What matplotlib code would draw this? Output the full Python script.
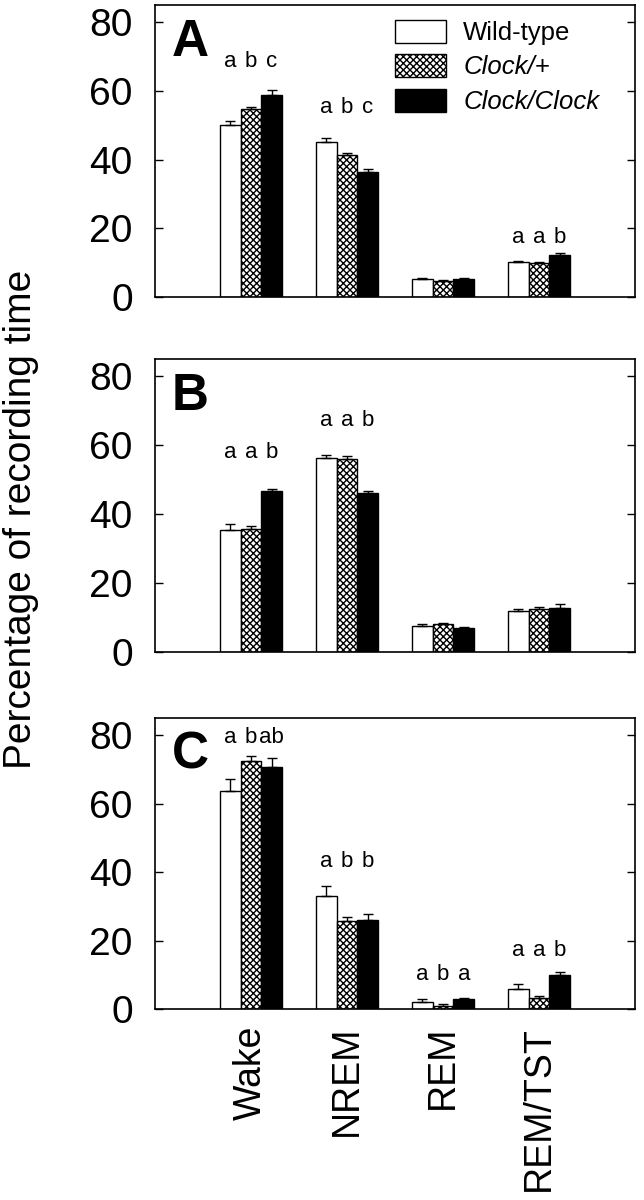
import numpy as np
import matplotlib
matplotlib.use("Agg")
import matplotlib.pyplot as plt

plt.rcParams['font.family'] = ['Liberation Sans', 'DejaVu Sans']
plt.rcParams['hatch.linewidth'] = 1.0

categories = ['Wake', 'NREM', 'REM', 'REM/TST']
genotypes = ['Wild-type', 'Clock/+', 'Clock/Clock']

# panel A
a_wt = [50.0, 45.1, 5.1, 10.3]
a_wt_err = [1.3, 1.3, 0.3, 0.3]
a_het = [54.6, 41.3, 4.6, 10.0]
a_het_err = [0.8, 0.7, 0.3, 0.3]
a_cc = [58.9, 36.4, 5.2, 12.2]
a_cc_err = [1.3, 0.8, 0.3, 0.7]
a_sig = [['a', 'b', 'c'], ['a', 'b', 'c'], None, ['a', 'a', 'b']]
a_sig_y = [67.1, 53.5, None, 15.6]

# panel B
b_wt = [35.3, 56.3, 7.5, 11.8]
b_wt_err = [1.7, 0.9, 0.6, 0.6]
b_het = [35.7, 56.0, 8.0, 12.4]
b_het_err = [0.9, 0.8, 0.4, 0.6]
b_cc = [46.7, 46.1, 6.9, 12.7]
b_cc_err = [0.6, 0.6, 0.3, 1.1]
b_sig = [['a', 'a', 'b'], ['a', 'a', 'b'], None, None]
b_sig_y = [56.2, 65.6, None, None]

# panel C
c_wt = [63.7, 33.1, 2.1, 5.8]
c_wt_err = [3.4, 2.8, 0.8, 1.6]
c_het = [72.5, 25.8, 0.8, 3.3]
c_het_err = [1.3, 1.1, 0.6, 0.5]
c_cc = [70.6, 25.9, 2.9, 10.0]
c_cc_err = [2.6, 1.8, 0.4, 0.9]
c_sig = [['a', 'b', 'ab'], ['a', 'b', 'b'], ['a', 'b', 'a'], ['a', 'a', 'b']]
c_sig_y = [77.7, 41.5, 8.5, 15.6]

panels = [
    ('A', [a_wt, a_het, a_cc], [a_wt_err, a_het_err, a_cc_err], a_sig, a_sig_y),
    ('B', [b_wt, b_het, b_cc], [b_wt_err, b_het_err, b_cc_err], b_sig, b_sig_y),
    ('C', [c_wt, c_het, c_cc], [c_wt_err, c_het_err, c_cc_err], c_sig, c_sig_y),
]

fig = plt.figure(figsize=(6.44, 12), dpi=100)
# axes boxes [left, bottom, width, height] in figure fraction
boxes = [[0.2407, 0.7525, 0.7453, 0.2433],
         [0.2407, 0.4567, 0.7453, 0.2441],
         [0.2407, 0.1590, 0.7453, 0.2427]]

x = np.arange(len(categories))
w = 0.218
styles = [dict(color='white', edgecolor='black'),
          dict(color='white', edgecolor='black', hatch='xxxxx'),
          dict(color='black', edgecolor='black')]

for k, (letter, series, errs, sig, sig_y) in enumerate(panels):
    ax = fig.add_axes(boxes[k])
    for i in range(3):
        xs = x + (i - 1) * w
        vals = np.array(series[i])
        e = np.array(errs[i])
        ax.bar(xs, vals, w, linewidth=1.0, label=genotypes[i], **styles[i])
        ax.errorbar(xs, vals, yerr=[np.zeros_like(e), e], fmt='none',
                    ecolor='black', elinewidth=1.0, capsize=3.5, capthick=1.0)
    for j, labs in enumerate(sig):
        if labs is None:
            continue
        for i, s in enumerate(labs):
            ax.text(x[j] + (i - 1) * w, sig_y[j], s, ha='center',
                    va='baseline', fontsize=16)
    ax.text(0.035, 0.825, letter, transform=ax.transAxes, fontsize=37,
            fontweight='bold', va='baseline', ha='left')
    ax.set_xlim(-1, 4)
    ax.set_ylim(0, 85)
    ax.set_yticks([0, 20, 40, 60, 80])
    ax.tick_params(axis='y', direction='in', length=6, width=1.0,
                   right=True, labelsize=28, pad=16)
    for sp in ax.spines.values():
        sp.set_linewidth(1.2)
    if k == 2:
        ax.set_xticks(x)
        ax.set_xticklabels(categories, rotation=90, fontsize=27)
        ax.tick_params(axis='x', length=0, pad=12)
    else:
        ax.set_xticks([])
    if k == 0:
        leg = ax.legend(loc='upper left', bbox_to_anchor=(0.5, 0.95),
                        frameon=False, fontsize=18.5, handlelength=2.0,
                        handleheight=1.0, labelspacing=0.36,
                        handletextpad=0.66, borderpad=0, borderaxespad=0)
        leg.get_texts()[1].set_style('italic')
        leg.get_texts()[2].set_style('italic')

fig.text(0.033, 0.5675, 'Percentage of recording time', rotation=90,
         ha='center', va='center', fontsize=28)

fig.savefig('out.png', dpi=100)
